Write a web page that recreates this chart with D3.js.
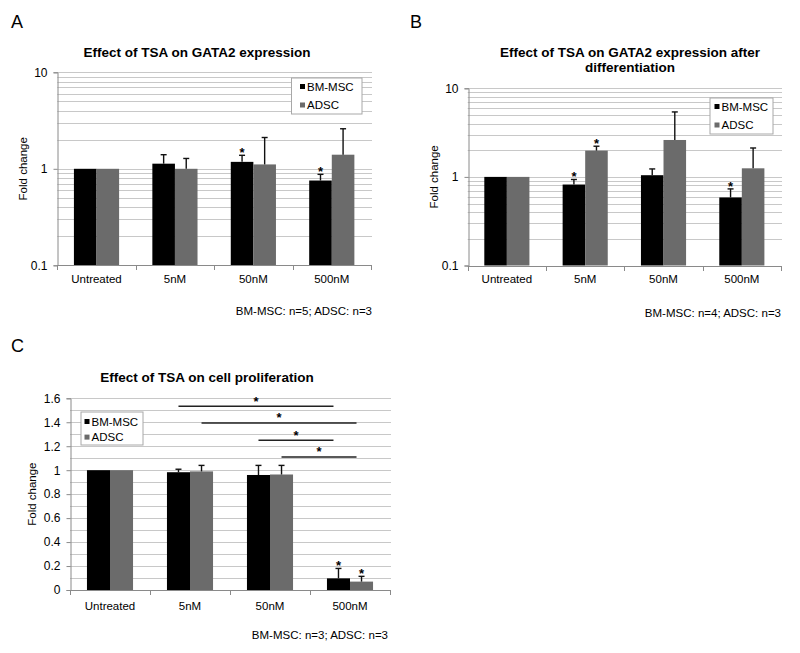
<!DOCTYPE html>
<html><head><meta charset="utf-8">
<script src="https://cdn.jsdelivr.net/npm/d3@7"></script>
<style>body{margin:0;background:#fff}svg{display:block;font-family:"Liberation Sans",Arial,sans-serif}</style>
</head><body><svg id="c" width="800" height="653"></svg>
<script>
const categories = ["Untreated", "5nM", "50nM", "500nM"];
const seriesNames = ["BM-MSC", "ADSC"];
// Panel A: GATA2 expression
const gataBM = [1, 1.13, 1.18, 0.756];
const gataBMErr = [0, 0.27, 0.20, 0.12];
const gataADSC = [1, 1.0, 1.11, 1.40];
const gataADSCErr = [0, 0.28, 1.0, 1.2];
const gataBMSig = [false, false, true, true];
const gataADSCSig = [false, false, false, false];
// Panel B: GATA2 expression after differentiation
const diffBM = [1, 0.82, 1.045, 0.586];
const diffBMErr = [0, 0.115, 0.185, 0.146];
const diffADSC = [1, 1.98, 2.61, 1.25];
const diffADSCErr = [0, 0.24, 2.8, 0.87];
const diffBMSig = [false, true, false, true];
const diffADSCSig = [false, true, false, false];
// Panel C: cell proliferation
const profBM = [1, 0.983, 0.96, 0.097];
const profBMErr = [0, 0.025, 0.08, 0.083];
const profADSC = [1, 0.99, 0.964, 0.07];
const profADSCErr = [0, 0.05, 0.076, 0.044];
const profBMSig = [false, false, false, true];
const profADSCSig = [false, false, false, true];
const profComparisons = [
  {from: "5nM", fromSeries: 0, to: "500nM", toSeries: 0, level: 1.533},
  {from: "5nM", fromSeries: 1, to: "500nM", toSeries: 1, level: 1.394},
  {from: "50nM", fromSeries: 0, to: "500nM", toSeries: 0, level: 1.25},
  {from: "50nM", fromSeries: 1, to: "500nM", toSeries: 1, level: 1.111}
];
const logTicks = [0.1, 1, 10];
const linTicks = [0, 0.2, 0.4, 0.6, 0.8, 1, 1.2, 1.4, 1.6];
const linGrid = [0, 0.1, 0.2, 0.3, 0.4, 0.5, 0.6, 0.7, 0.8, 0.9, 1, 1.1, 1.2, 1.3, 1.4, 1.5, 1.6];
const panelLetters = ["A", "B", "C"];
const titleA = ["Effect of TSA on GATA2 expression"];
const titleB = ["Effect of TSA on GATA2 expression after", "differentiation"];
const titleC = ["Effect of TSA on cell proliferation"];
const yTitle = "Fold change";
const notes = ["BM-MSC: n=5; ADSC: n=3", "BM-MSC: n=4; ADSC: n=3", "BM-MSC: n=3; ADSC: n=3"];

const colors = ["#000000", "#6b6b6b"];
const svg = d3.select("#c");
const FS = 11.5;
const TXT = "#000";

function panel(cfg) {
  const g = svg.append("g");
  const x = d3.scaleBand().domain(categories).range([cfg.x0, cfg.x1]);
  const y = cfg.log
    ? d3.scaleLog().domain([0.1, 10]).range([cfg.yb, cfg.yt])
    : d3.scaleLinear().domain([0, 1.6]).range([cfg.yb, cfg.yt]);
  const gridVals = cfg.log ? y.ticks() : linGrid;
  g.append("g").selectAll("line").data(gridVals).join("line")
    .attr("x1", cfg.x0).attr("x2", cfg.x1 + 1)
    .attr("y1", d => Math.round(y(d)) + 0.5).attr("y2", d => Math.round(y(d)) + 0.5)
    .attr("stroke", "#c8c8c8").attr("stroke-width", 1);
  const barW = x.bandwidth() * 0.288;
  const bx = (cat, s) => x(cat) + x.bandwidth() / 2 - barW + s * barW;
  const series = [
    {vals: cfg.bm, err: cfg.bmErr, sig: cfg.bmSig},
    {vals: cfg.adsc, err: cfg.adscErr, sig: cfg.adscSig}
  ];
  const base = cfg.log ? 0.1 : 0;
  series.forEach((s, si) => {
    const data = categories.map((c, i) => ({c, v: s.vals[i], e: s.err[i], sig: s.sig[i]}));
    g.append("g").selectAll("rect").data(data).join("rect")
      .attr("x", d => bx(d.c, si)).attr("width", barW)
      .attr("y", d => y(d.v)).attr("height", d => y(base) - y(d.v))
      .attr("fill", colors[si]);
    const eg = g.append("g").attr("stroke", "#111").attr("stroke-width", 1.4);
    data.filter(d => d.e > 0).forEach(d => {
      const cx = bx(d.c, si) + barW / 2;
      eg.append("line").attr("x1", cx).attr("x2", cx).attr("y1", y(d.v)).attr("y2", y(d.v + d.e));
      eg.append("line").attr("x1", cx - 3).attr("x2", cx + 3).attr("y1", y(d.v + d.e)).attr("y2", y(d.v + d.e));
    });
    data.filter(d => d.sig).forEach(d => {
      const cx = bx(d.c, si) + barW / 2;
      g.append("text").attr("x", cx).attr("y", y(d.v + d.e) + 2)
        .attr("text-anchor", "middle").attr("font-size", 13).attr("font-weight", "bold").text("*");
    });
  });
  const yAxis = d3.axisLeft(y).tickValues(cfg.log ? logTicks : linTicks)
    .tickSize(4).tickPadding(6).tickFormat(d => String(+d.toFixed(1)));
  const ya = g.append("g").attr("transform", `translate(${Math.round(cfg.x0) + 0.5},0)`).call(yAxis);
  ya.select(".domain").attr("stroke", "#8a8a8a");
  ya.selectAll(".tick line").attr("stroke", "#8a8a8a");
  ya.selectAll("text").attr("font-size", 12).attr("fill", TXT).attr("font-family", null);
  const xa = g.append("g");
  xa.append("line").attr("x1", cfg.x0).attr("x2", cfg.x1 + 1)
    .attr("y1", Math.round(cfg.yb) + 0.5).attr("y2", Math.round(cfg.yb) + 0.5).attr("stroke", "#8a8a8a");
  const bounds = categories.map(c => x(c)).concat([cfg.x1]);
  xa.selectAll("line.t").data(bounds).join("line").attr("class", "t")
    .attr("x1", d => Math.round(d) + 0.5).attr("x2", d => Math.round(d) + 0.5)
    .attr("y1", Math.round(cfg.yb)).attr("y2", Math.round(cfg.yb) + 5).attr("stroke", "#8a8a8a");
  xa.selectAll("text").data(categories).join("text")
    .attr("x", d => x(d) + x.bandwidth() / 2).attr("y", cfg.xLabelY)
    .attr("text-anchor", "middle").attr("font-size", FS).attr("fill", TXT).text(d => d);
  g.append("text").attr("transform", `translate(${cfg.yTitleX},${(cfg.yt + cfg.yb) / 2}) rotate(-90)`)
    .attr("text-anchor", "middle").attr("dy", "0.35em").attr("font-size", FS).attr("fill", TXT).text(yTitle);
  g.append("g").selectAll("text").data(cfg.title).join("text")
    .attr("x", cfg.titleX).attr("y", (d, i) => cfg.titleY + i * 15)
    .attr("text-anchor", "middle").attr("font-size", 13.5).attr("font-weight", "bold").attr("fill", TXT).text(d => d);
  g.append("text").attr("x", cfg.letterX).attr("y", cfg.letterY).attr("font-size", 18).attr("fill", TXT).text(cfg.letter);
  g.append("text").attr("x", cfg.noteX).attr("y", cfg.noteY).attr("text-anchor", "end")
    .attr("font-size", FS).attr("fill", TXT).text(cfg.note);
  const L = cfg.legend;
  const lg = g.append("g");
  lg.append("rect").attr("x", L.x + 0.5).attr("y", L.y + 0.5).attr("width", L.w).attr("height", L.h)
    .attr("fill", "#fff").attr("stroke", "#a8a8a8");
  seriesNames.forEach((n, i) => {
    const cy = L.y + L.first + i * L.step;
    lg.append("rect").attr("x", L.x + L.mx).attr("y", cy - 2.5).attr("width", 5).attr("height", 5).attr("fill", colors[i]);
    lg.append("text").attr("x", L.x + L.mx + 7).attr("y", cy).attr("dy", "0.36em")
      .attr("font-size", FS).attr("fill", TXT).text(n);
  });
  if (cfg.comps) {
    cfg.comps.forEach(cp => {
      const xa1 = bx(cp.from, cp.fromSeries) + barW / 2;
      const xa2 = bx(cp.to, cp.toSeries) + barW / 2 - 5;
      const yy = y(cp.level);
      g.append("line").attr("x1", xa1).attr("x2", xa2).attr("y1", yy).attr("y2", yy)
        .attr("stroke", "#222").attr("stroke-width", 1.5);
      g.append("text").attr("x", (xa1 + xa2) / 2).attr("y", yy - 0.5)
        .attr("text-anchor", "middle").attr("font-size", 13).attr("font-weight", "bold").text("*");
    });
  }
}

panel({log: true, x0: 57.3, x1: 371, yt: 72.3, yb: 265.3,
  bm: gataBM, bmErr: gataBMErr, adsc: gataADSC, adscErr: gataADSCErr, bmSig: gataBMSig, adscSig: gataADSCSig,
  xLabelY: 283, yTitleX: 22.5, title: titleA, titleX: 197, titleY: 57, letter: panelLetters[0], letterX: 11, letterY: 28,
  note: notes[0], noteX: 372, noteY: 315,
  legend: {x: 291, y: 77.5, w: 70.5, h: 36, mx: 9, first: 9, step: 18.5}});

panel({log: true, x0: 467.7, x1: 781, yt: 88.3, yb: 265.5,
  bm: diffBM, bmErr: diffBMErr, adsc: diffADSC, adscErr: diffADSCErr, bmSig: diffBMSig, adscSig: diffADSCSig,
  xLabelY: 283, yTitleX: 433.5, title: titleB, titleX: 630, titleY: 56.5, letter: panelLetters[1], letterX: 410, letterY: 28,
  note: notes[1], noteX: 781, noteY: 317,
  legend: {x: 709.5, y: 97.5, w: 63, h: 36, mx: 5, first: 9, step: 18.5}});

panel({log: false, x0: 70, x1: 390, yt: 398.3, yb: 590,
  bm: profBM, bmErr: profBMErr, adsc: profADSC, adscErr: profADSCErr, bmSig: profBMSig, adscSig: profADSCSig,
  xLabelY: 609.5, yTitleX: 31.5, title: titleC, titleX: 207, titleY: 382, letter: panelLetters[2], letterX: 11, letterY: 352,
  note: notes[2], noteX: 388, noteY: 639,
  legend: {x: 80.5, y: 411.5, w: 62, h: 33, mx: 4, first: 10, step: 15.6},
  comps: profComparisons});
</script></body></html>
